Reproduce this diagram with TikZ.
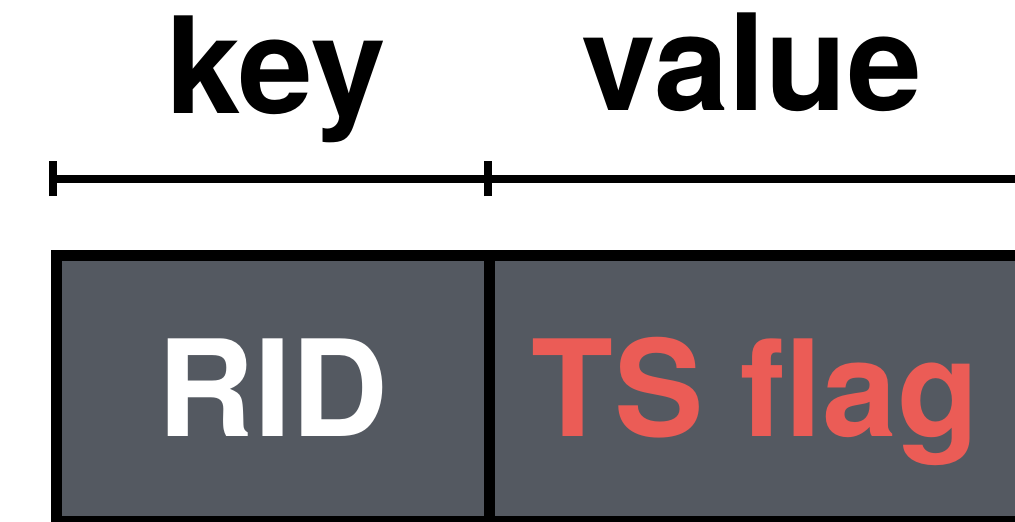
\documentclass[tikz,border=0pt]{standalone}
\usepackage{fontspec}
\setmainfont{TeX Gyre Heros}
\usetikzlibrary{positioning}
\definecolor{cellgray}{RGB}{84,89,97}
\definecolor{flagred}{RGB}{235,92,86}

\begin{document}
\begin{tikzpicture}[x=1pt, y=-1pt,
		big/.style={font=\fontsize{134}{160}\selectfont\bfseries},
		cell/.style={draw=black, fill=cellgray, line width=11pt, minimum height=266.5pt,
			inner sep=0pt, outer sep=0pt, text height=96pt, text depth=0pt, big},
		bar/.style={line width=8pt}]
		% Bildbereich
		\useasboundingbox (0,0) rectangle (1015,522);
		\clip (0,0) rectangle (1015,522);
		% Beschriftung oben
		\node[big, anchor=base] (keylbl) at (276,113) {key};
		\node[big, anchor=base] (vallbl) at (752,110) {value};
		% Massstab
		\coordinate (keyL) at (53,178.5);
		\coordinate (keyR) at (487.5,178.5);
		\coordinate (valR) at (1022,178.5);
		\draw[bar] (keyL) -- (valR);
		\foreach \c in {keyL,keyR,valR}
			\draw[bar] ([yshift=-17.5pt]\c) -- ([yshift=17.5pt]\c);
		% Felder
		\node[cell, minimum width=432.5pt, anchor=north west, text=white] (rid) at (56.5,255) {RID};
		\node[cell, minimum width=533pt, anchor=north west, text=flagred] (tsflag) at (rid.north east) {TS flag};
	\end{tikzpicture}
\end{document}
